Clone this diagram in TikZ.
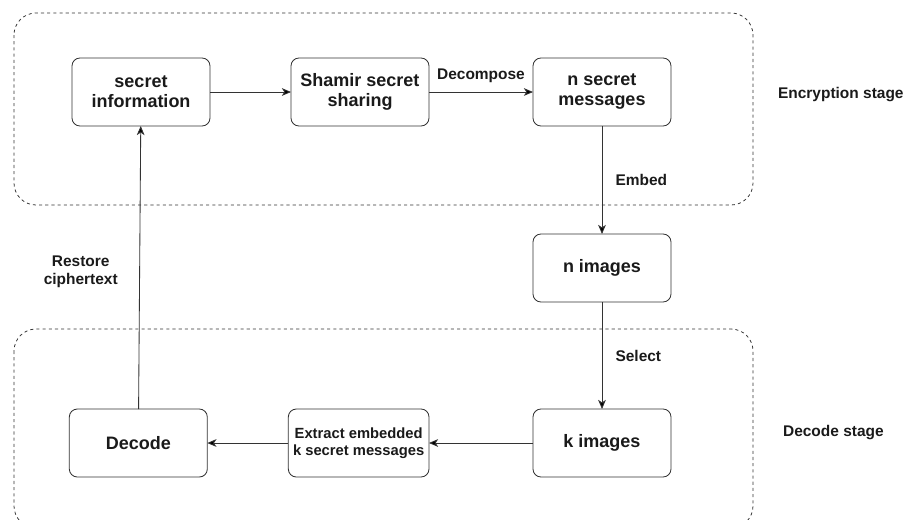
\documentclass[tikz,border=0pt]{standalone}
\usepackage{fontspec}
\setmainfont{Liberation Sans}
\usepackage{xcolor}
\usepackage{tikz}
\usetikzlibrary{positioning, arrows.meta}

\definecolor{linegray}{HTML}{333333}
\definecolor{textblack}{HTML}{1A1A1A}

\tikzset{
    block/.style={draw=linegray, line width=0.6pt, rounded corners=0.2cm, minimum width=3.45cm, minimum height=1.7cm, outer sep=0pt, align=center, text=textblack, font=\fontsize{12.8}{14.2}\selectfont\bfseries},
    lbl/.style={text=textblack, align=center, font=\fontsize{11}{12.8}\selectfont\bfseries},
    stagebox/.style={draw=linegray, line width=0.55pt, dash pattern=on 2.2pt off 2.2pt, rounded corners=0.55cm}
}

\begin{document}
\begin{tikzpicture}[>={Stealth[length=6.5pt, width=5.5pt, inset=1.8pt]}, line width=0.6pt]
        \useasboundingbox (0,0) rectangle (22.775,-12.975);
        % stage frames
        \draw[stagebox] (0.35,-0.325) rectangle (18.825,-5.125);
        \draw[stagebox] (0.35,-8.225) rectangle (18.825,-13.2);
%
        \node[block] (info) at (3.525,-2.3) {secret\\information};
        \node[block, right=2.025cm of info] (shamir) {Shamir secret\\sharing};
        \node[block, right=2.6cm of shamir] (msgs) {n secret\\messages};
        \node[block, below=2.7cm of msgs] (nimg) {n images};
        \node[block, below=2.675cm of nimg] (kimg) {k images};
        \node[block, left=2.6cm of kimg, font=\fontsize{10.5}{12}\selectfont\bfseries] (extract) {Extract embedded\\k secret messages};
        \node[block, left=2.025cm of extract] (decode) {Decode};
%
        \node[lbl, anchor=west] (enc) at (19.325,-2.375) {Encryption stage};
        \node[lbl, anchor=west] (dec) at (19.45,-10.825) {Decode stage};
%
		\path[->, draw=linegray] 
        (info) edge node{} (shamir)
        (shamir) edge node[lbl, above, yshift=3pt]{Decompose} (msgs)
        (msgs) edge node[lbl, right, xshift=6pt]{Embed} (nimg)
        (nimg) edge node[lbl, right, xshift=6pt]{Select} (kimg)
        (kimg) edge node{} (extract)
        (extract) edge node{} (decode)
        (decode) edge node[lbl, left, xshift=-12pt, yshift=-3pt]{Restore\\ciphertext} (info);
	\end{tikzpicture}
\end{document}
